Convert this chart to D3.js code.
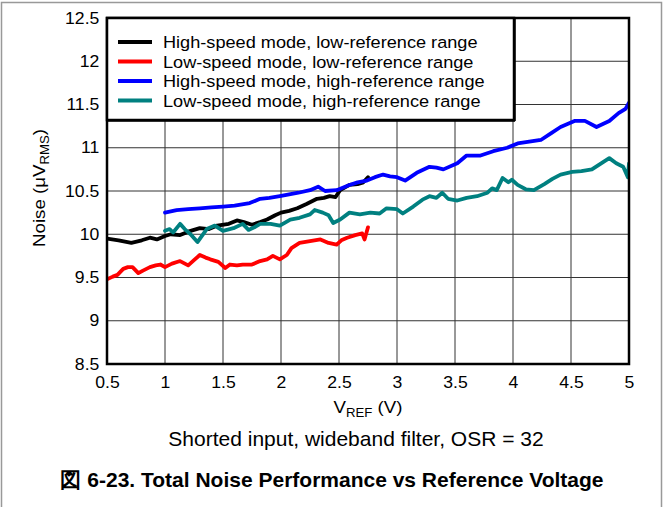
<!DOCTYPE html>
<html><head><meta charset="utf-8">
<script src="https://cdn.jsdelivr.net/npm/d3@7"></script>
<style>body{margin:0;background:#fff;} svg{display:block;font-family:Arial,"Liberation Sans",sans-serif;}</style>
</head><body>
<svg id="c" width="663" height="507"></svg>
<script>
const seriesNames = ["High-speed mode, low-reference range","Low-speed mode, low-reference range","High-speed mode, high-reference range","Low-speed mode, high-reference range"];
const seriesColors = ["#000000","#ff0000","#0000ff","#008080"];
const xTicks = [0.5,1,1.5,2,2.5,3,3.5,4,4.5,5];
const yTicks = [8.5,9,9.5,10,10.5,11,11.5,12,12.5];

const hsLowX = [0.5,0.6,0.71,0.8,0.87,0.93,1.0,1.05,1.13,1.2,1.3,1.38,1.45,1.55,1.62,1.68,1.75,1.82,1.88,1.95,2.0,2.07,2.14,2.22,2.31,2.37,2.42,2.47,2.51,2.59,2.66,2.71,2.75];
const hsLowY = [9.95,9.93,9.90,9.93,9.96,9.94,9.98,10.0,9.99,10.03,10.07,10.06,10.1,10.12,10.16,10.14,10.11,10.14,10.17,10.22,10.25,10.27,10.3,10.35,10.41,10.42,10.44,10.43,10.51,10.57,10.58,10.6,10.66];

const lsLowX = [0.5,0.55,0.59,0.64,0.68,0.72,0.77,0.81,0.87,0.92,0.96,1.0,1.06,1.13,1.2,1.25,1.3,1.35,1.39,1.46,1.52,1.56,1.62,1.67,1.75,1.82,1.88,1.93,1.99,2.05,2.09,2.16,2.25,2.34,2.41,2.48,2.52,2.57,2.64,2.70,2.72,2.75];
const lsLowY = [9.48,9.51,9.53,9.6,9.62,9.62,9.55,9.58,9.62,9.64,9.65,9.62,9.66,9.69,9.64,9.7,9.76,9.73,9.71,9.68,9.61,9.65,9.64,9.65,9.65,9.69,9.71,9.75,9.71,9.76,9.84,9.9,9.92,9.94,9.9,9.88,9.93,9.96,9.99,10.01,9.94,10.08];

const hsHighX = [1.0,1.1,1.2,1.3,1.4,1.5,1.6,1.73,1.82,1.9,1.99,2.07,2.15,2.25,2.32,2.38,2.48,2.59,2.66,2.74,2.81,2.88,2.94,3.0,3.07,3.17,3.28,3.34,3.40,3.52,3.60,3.72,3.83,3.95,4.04,4.14,4.24,4.33,4.41,4.53,4.62,4.72,4.83,4.91,4.97,5.0];
const hsHighY = [10.25,10.28,10.29,10.3,10.31,10.32,10.33,10.36,10.41,10.42,10.44,10.46,10.48,10.51,10.55,10.5,10.51,10.57,10.6,10.62,10.66,10.69,10.67,10.66,10.62,10.71,10.78,10.77,10.75,10.82,10.91,10.91,10.96,11.0,11.05,11.07,11.09,11.17,11.24,11.31,11.31,11.24,11.31,11.4,11.45,11.52];

const lsHighX = [1.0,1.04,1.07,1.13,1.17,1.22,1.28,1.36,1.43,1.50,1.59,1.67,1.72,1.77,1.82,1.91,1.99,2.08,2.16,2.25,2.29,2.36,2.41,2.45,2.51,2.59,2.68,2.77,2.85,2.91,3.0,3.05,3.14,3.22,3.28,3.34,3.39,3.44,3.52,3.60,3.69,3.78,3.82,3.86,3.91,3.96,3.99,4.04,4.11,4.18,4.27,4.34,4.41,4.51,4.59,4.68,4.76,4.83,4.89,4.95,4.99,5.0];
const lsHighY = [10.04,10.06,10.02,10.12,10.06,10.0,9.91,10.06,10.1,10.04,10.07,10.12,10.05,10.08,10.12,10.12,10.1,10.17,10.19,10.23,10.28,10.25,10.22,10.13,10.17,10.25,10.23,10.25,10.24,10.3,10.29,10.24,10.32,10.4,10.44,10.42,10.48,10.41,10.39,10.42,10.44,10.48,10.53,10.51,10.65,10.6,10.63,10.57,10.52,10.51,10.58,10.64,10.69,10.72,10.73,10.75,10.82,10.88,10.82,10.78,10.66,10.82];

const seriesX = [hsLowX, lsLowX, hsHighX, lsHighX];
const seriesY = [hsLowY, lsLowY, hsHighY, lsHighY];

const svg = d3.select("#c");
const L = 107, R = 629, T = 18, B = 364;
const x = d3.scaleLinear().domain([0.5,5]).range([L,R]);
const y = d3.scaleLinear().domain([8.5,12.5]).range([B,T]);
const FF = "Arial,'Liberation Sans',sans-serif";

// outer frame
svg.append("path").attr("d","M1.5,507 V2.5 H661.5 V507").attr("fill","none").attr("stroke","#999").attr("stroke-width",1.5);

// grid
const g = svg.append("g");
g.selectAll(".vg").data(xTicks.slice(1,-1)).join("line")
  .attr("x1",d=>x(d)).attr("x2",d=>x(d)).attr("y1",T).attr("y2",B)
  .attr("stroke","#333").attr("stroke-width",1);
g.selectAll(".hg").data(yTicks.slice(1,-1)).join("line")
  .attr("y1",d=>y(d)).attr("y2",d=>y(d)).attr("x1",L).attr("x2",R)
  .attr("stroke","#333").attr("stroke-width",1);

// axes labels via d3 axes
const xa = svg.append("g").attr("transform",`translate(0,${B})`)
  .call(d3.axisBottom(x).tickValues(xTicks).tickSize(0).tickPadding(13).tickFormat(d=>String(d)));
xa.select(".domain").remove();
xa.selectAll("text").attr("font-size",16).attr("font-family",FF).attr("fill","#000").attr("transform","scale(1.1,1)");
const ya = svg.append("g").attr("transform",`translate(${L},0)`)
  .call(d3.axisLeft(y).tickValues(yTicks).tickSize(0).tickPadding(7).tickFormat(d=>String(d)));
ya.select(".domain").remove();
ya.selectAll("text").attr("font-size",16).attr("font-family",FF).attr("fill","#000").attr("transform","scale(1.1,1)");

// lines
const line = d3.line().x(d=>x(d[0])).y(d=>y(d[1])).curve(d3.curveLinear);
svg.append("clipPath").attr("id","pc").append("rect").attr("x",L).attr("y",T).attr("width",R-L).attr("height",B-T);
seriesX.forEach((xs,i)=>{
  const pts = xs.map((v,j)=>[v, seriesY[i][j]]);
  svg.append("path").datum(pts).attr("d",line).attr("fill","none")
    .attr("stroke",seriesColors[i]).attr("stroke-width",3.8)
    .attr("stroke-linejoin","round").attr("stroke-linecap","round")
    .attr("clip-path","url(#pc)");
});

// plot border
svg.append("rect").attr("x",L).attr("y",T).attr("width",R-L).attr("height",B-T)
  .attr("fill","none").attr("stroke","#000").attr("stroke-width",2.5);

// legend
const lg = svg.append("g");
lg.append("rect").attr("x",L).attr("y",T).attr("width",407).attr("height",102)
  .attr("fill","#fff").attr("stroke","#000").attr("stroke-width",2.5);
lg.append("line").attr("x1",L+408).attr("x2",L+408).attr("y1",T).attr("y2",T+103).attr("stroke","#000").attr("stroke-width",1.5);
lg.append("line").attr("x1",L).attr("x2",L+408).attr("y1",T+103).attr("y2",T+103).attr("stroke","#000").attr("stroke-width",1.5);
seriesNames.forEach((n,i)=>{
  const yy = 42 + i*19.5;
  lg.append("line").attr("x1",118).attr("x2",152).attr("y1",yy).attr("y2",yy)
    .attr("stroke",seriesColors[i]).attr("stroke-width",3.8);
  lg.append("text").attr("transform",`translate(163,${yy+6}) scale(1.1,1)`).attr("font-size",16.5).attr("font-family",FF).text(n);
});

// axis titles
const yt = svg.append("text").attr("transform","translate(45,188) rotate(-90) scale(1.1,1)").attr("text-anchor","middle").attr("font-size",17).attr("font-family",FF);
yt.append("tspan").text("Noise (\u03BCV");
yt.append("tspan").attr("font-size",12).attr("dy",4).text("RMS");
yt.append("tspan").attr("dy",-4).text(")");

const xt = svg.append("text").attr("transform","translate(368,413) scale(1.1,1)").attr("text-anchor","middle").attr("font-size",17).attr("font-family",FF);
xt.append("tspan").text("V");
xt.append("tspan").attr("font-size",12).attr("dy",4).text("REF");
xt.append("tspan").attr("dy",-4).text(" (V)");

svg.append("text").attr("x",356).attr("y",446).attr("text-anchor","middle").attr("font-size",21).attr("font-family",FF).text("Shorted input, wideband filter, OSR = 32");
svg.append("text").attr("x",332).attr("y",487).attr("text-anchor","middle").attr("font-size",21).attr("font-weight","bold")
  .attr("font-family","'Liberation Sans Narrow','Arial Narrow',Arial,sans-serif").text("図 6-23. Total Noise Performance vs Reference Voltage");
</script>
</body></html>
